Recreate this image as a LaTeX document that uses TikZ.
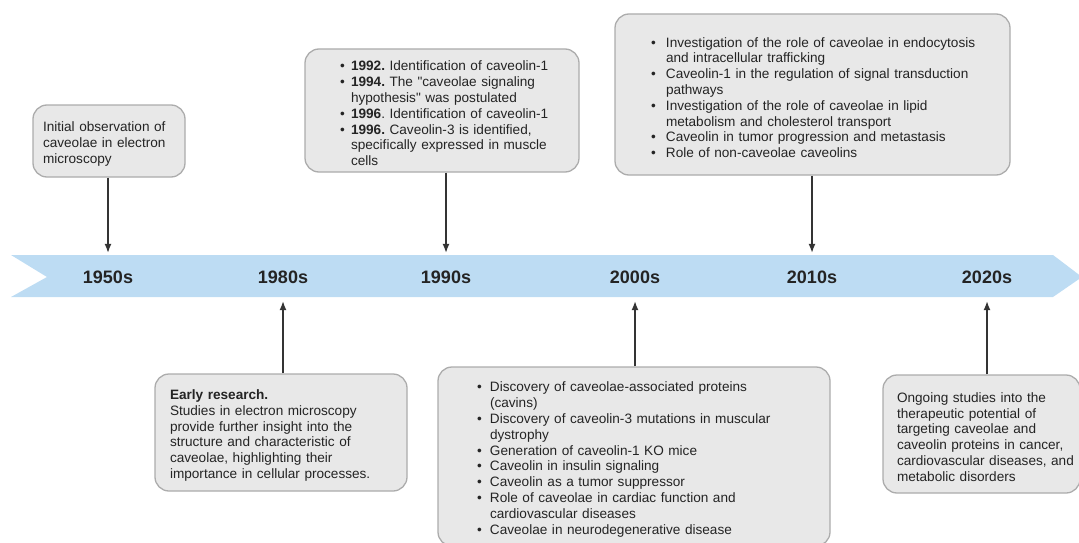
\documentclass[tikz,border=0pt]{standalone}
\usepackage{fontspec}
\setmainfont{Liberation Sans}
\usetikzlibrary{arrows.meta}
\definecolor{bandblue}{RGB}{189,220,243}
\definecolor{boxfill}{RGB}{232,232,232}
\definecolor{boxdraw}{RGB}{172,172,172}
\definecolor{ink}{RGB}{36,36,36}
\definecolor{arrowgray}{RGB}{52,52,52}
\hfuzz=300pt
\frenchspacing
\newlength{\bulw}
\setlength{\bulw}{13pt}
% one line of a box, never broken
\newcommand{\boxline}[1]{\par\noindent\mbox{#1}}
\newcommand{\bulline}[1]{\par\noindent\makebox[\bulw][l]{\textbullet}\mbox{#1}}
\newcommand{\contline}[1]{\par\noindent\hspace*{\bulw}\mbox{#1}}
\tikzset{
  eventbox/.style n args={3}{draw=boxdraw, fill=boxfill, line width=1.3pt,
    rounded corners=14pt, inner sep=0pt, text=ink,
    font=\fontsize{13.6}{15.8}\selectfont,
    minimum width=#1, minimum height=#2, text width=#3},
  yearlabel/.style={font=\fontsize{18}{20}\selectfont\bfseries, text=ink,
    minimum height=48pt, inner sep=0pt},
  link/.style={-{Latex[length=9pt,width=7pt]}, line width=1.3pt, draw=arrowgray}
}

\begin{document}
\begin{tikzpicture}[x=1pt,y=-1pt]
\useasboundingbox (0,0) rectangle (1079,543);

%band:
\fill[bandblue] (11,255) -- (1053,255) -- (1082,277) -- (1053,297) -- (11,297) -- (47,277) -- cycle;

%decades:
\node[yearlabel] (y1950) at (108,277) {1950s};
\node[yearlabel] (y1980) at (283,277) {1980s};
\node[yearlabel] (y1990) at (446,277) {1990s};
\node[yearlabel] (y2000) at (635,277) {2000s};
\node[yearlabel] (y2010) at (812,277) {2010s};
\node[yearlabel] (y2020) at (987,277) {2020s};

%boxes above:
\node[eventbox={152pt}{72pt}{132pt}] (b1950) at (109,141) {%
  \boxline{Initial observation of}
  \boxline{caveolae in electron}
  \boxline{microscopy}};

\node[eventbox={274pt}{123pt}{204pt}] (b1990) at (442,110.5) {%
  \setlength{\bulw}{11pt}%
  \bulline{\textbf{1992.} Identification of caveolin-1}
  \bulline{\textbf{1994.} The \textquotedbl caveolae signaling}
  \contline{hypothesis\textquotedbl{} was postulated}
  \bulline{\textbf{1996}. Identification of caveolin-1}
  \bulline{\textbf{1996.} Caveolin-3 is identified,}
  \contline{specifically expressed in muscle}
  \contline{cells}};

\node[eventbox={395pt}{161pt}{323pt}] (b2010) at (812.5,94.5) {%
  \setlength{\bulw}{15pt}%
  \bulline{Investigation of the role of caveolae in endocytosis}
  \contline{and intracellular trafficking}
  \bulline{Caveolin-1 in the regulation of signal transduction}
  \contline{pathways}
  \bulline{Investigation of the role of caveolae in lipid}
  \contline{metabolism and cholesterol transport}
  \bulline{Caveolin in tumor progression and metastasis}
  \bulline{Role of non-caveolae caveolins}};

%boxes below:
\node[eventbox={252pt}{117pt}{222pt}] (b1980) at (281,432.5) {%
  \boxline{\textbf{Early research.}}
  \boxline{Studies in electron microscopy}
  \boxline{provide further insight into the}
  \boxline{structure and characteristic of}
  \boxline{caveolae, highlighting their}
  \boxline{importance in cellular processes.}};

\node[eventbox={392pt}{179pt}{314pt}] (b2000) at (634,456.5) {%
  \bulline{Discovery of caveolae-associated proteins}
  \contline{(cavins)}
  \bulline{Discovery of caveolin-3 mutations in muscular}
  \contline{dystrophy}
  \bulline{Generation of caveolin-1 KO mice}
  \bulline{Caveolin in insulin signaling}
  \bulline{Caveolin as a tumor suppressor}
  \bulline{Role of caveolae in cardiac function and}
  \contline{cardiovascular diseases}
  \bulline{Caveolae in neurodegenerative disease}};

\node[eventbox={197pt}{118pt}{169pt}] (b2020) at (981.5,434) {%
  \boxline{Ongoing studies into the}
  \boxline{therapeutic potential of}
  \boxline{targeting caveolae and}
  \boxline{caveolin proteins in cancer,}
  \boxline{cardiovascular diseases, and}
  \boxline{metabolic disorders}};

%arrows:
\draw[link] (b1950.south -| y1950) -- (y1950.north);
\draw[link] (b1990.south -| y1990) -- (y1990.north);
\draw[link] (b2010.south -| y2010) -- (y2010.north);
\draw[link] (b1980.north -| y1980) -- (y1980.south);
\draw[link] (b2000.north -| y2000) -- (y2000.south);
\draw[link] (b2020.north -| y2020) -- (y2020.south);

\end{tikzpicture}
\end{document}
